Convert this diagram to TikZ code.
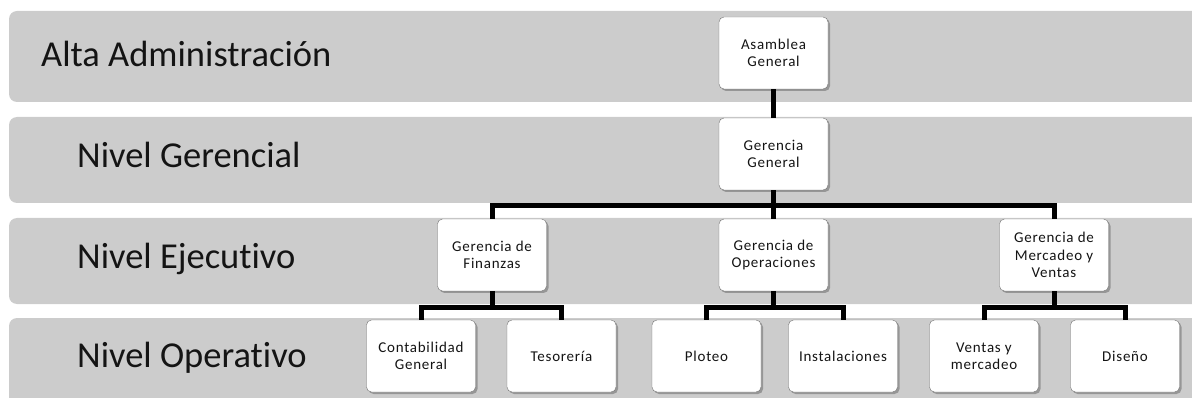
\documentclass[tikz,border=0pt]{standalone}
\usepackage{fontspec}
\setmainfont{Carlito}[Ligatures=CommonOff]
\newfontfamily\boxfont[LetterSpace=5,Ligatures=CommonOff]{Carlito}
\usetikzlibrary{shadows}
\definecolor{bandgrey}{HTML}{CCCCCC}
\definecolor{txt}{HTML}{141414}
\begin{document}
\begin{tikzpicture}[x=1pt,y=-1pt,
  band/.style={fill=bandgrey, rounded corners=8pt},
  lvl/.style={anchor=base west, text=txt, inner sep=0pt, font=\fontsize{36.5}{42}\selectfont},
  unit/.style={draw=black!55, fill=white, rounded corners=5pt, minimum width=109pt,
    minimum height=72pt, align=center, inner sep=2pt, text=txt,
    font=\boxfont\fontsize{15}{17.5}\selectfont,
    drop shadow={shadow xshift=2pt, shadow yshift=-2pt, fill=black!55, opacity=0.6}},
  link/.style={line width=5pt}]
\useasboundingbox (0,0) rectangle (1192,398);
\begin{scope}
\clip (0,0) rectangle (1192,398);
\fill[band] (9,11) rectangle (1210,102);
\fill[band] (9,117) rectangle (1210,203);
\fill[band] (9,218) rectangle (1210,304);
\fill[band] (9,318) rectangle (1210,420);
\end{scope}
% level labels
\node[lvl] (l1) at (41,67) {Alta Administración};
\node[lvl] (l2) at (77,168) {Nivel Gerencial};
\node[lvl] (l3) at (77,269) {Nivel Ejecutivo};
\node[lvl] (l4) at (77,367) {Nivel Operativo};
% units
\node[unit] (asam) at (773.5,53) {Asamblea\\General};
\node[unit] (gg) at (773.5,154) {Gerencia\\General};
\node[unit] (fin) at (492,255) {Gerencia de\\Finanzas};
\node[unit] (ope) at (773.5,255) {Gerencia de\\Operaciones};
\node[unit] (mer) at (1054,255) {Gerencia de\\Mercadeo y\\Ventas};
\node[unit] (con) at (421,356) {Contabilidad\\General};
\node[unit] (tes) at (561.5,356) {Tesorería};
\node[unit] (plo) at (706.5,356) {Ploteo};
\node[unit] (ins) at (843,356) {Instalaciones};
\node[unit] (ven) at (984,356) {Ventas y\\mercadeo};
\node[unit] (dis) at (1125,356) {Diseño};
% bus points
\coordinate (b1) at (773.5,206);
\coordinate (b2) at (492,307.5);
\coordinate (b3) at (773.5,307.5);
\coordinate (b4) at (1054,307.5);
% connectors
\draw[link] (asam.south) -- (gg.north);
\draw[link] (gg.south) -- (ope.north);
\draw[link] (fin.north) |- (b1) -| (mer.north);
\draw[link] (fin.south) -- (b2);
\draw[link] (con.north) |- (b2) -| (tes.north);
\draw[link] (ope.south) -- (b3);
\draw[link] (plo.north) |- (b3) -| (ins.north);
\draw[link] (mer.south) -- (b4);
\draw[link] (ven.north) |- (b4) -| (dis.north);
\end{tikzpicture}
\end{document}
